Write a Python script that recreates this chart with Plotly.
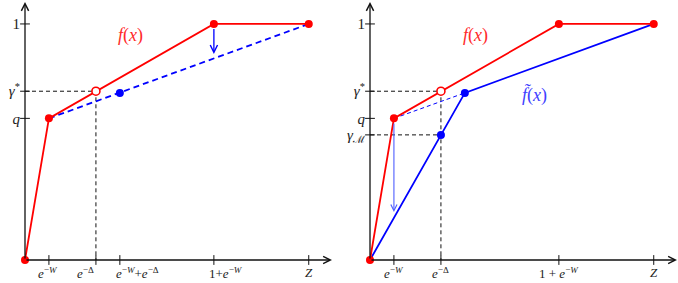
import plotly.graph_objects as go

# ---------------- data (abstract units) ----------------
EW = 0.145        # e^{-W}
ED = 0.43         # e^{-Delta}
Z = 1.72
Q = 0.60          # q
GSTAR = 0.715     # gamma*
GM = 0.53         # gamma_M
BLUE_MID = 0.708  # value of the dashed/tilde curve at e^{-W}+e^{-Delta}

# f(x) (red, both panels)
f_x = [0, EW, 1 + EW, Z]
f_y = [0, Q, 1.0, 1.0]
f_pts_x = [0, EW, 1 + EW, Z]
f_pts_y = [0, Q, 1.0, 1.0]
open_x = [ED]
open_y = [GSTAR]

# left panel: dashed blue chord and its point
chord_x = [EW, Z]
chord_y = [Q, 1.0]
chord_pt_x = [EW + ED]
chord_pt_y = [BLUE_MID]
left_arrow_x = [1 + EW, 1 + EW]
left_arrow_y = [0.985, 0.873]

# right panel: tilde f
ft_x = [0, ED, EW + ED, Z]
ft_y = [0, GM, BLUE_MID, 1.0]
ft_pts_x = [ED, EW + ED]
ft_pts_y = [GM, BLUE_MID]
ft_dash_x = [EW, EW + ED]
ft_dash_y = [Q, BLUE_MID]
right_arrow_x = [EW, EW]
right_arrow_y = [0.585, 0.203]

# ticks
left_xticks = [EW, ED, EW + ED, 1 + EW, Z]
left_xlabels = ["<i>e</i><sup>−<i>W</i></sup>", "<i>e</i><sup>−Δ</sup>",
                "<i>e</i><sup>−<i>W</i></sup>+<i>e</i><sup>−Δ</sup>",
                "1+<i>e</i><sup>−<i>W</i></sup>", "<i>Z</i>"]
left_yticks = [Q, GSTAR, 1.0]
left_ylabels = ["<i>q</i>", "<i>γ</i><sup>*</sup>", "1"]
right_xticks = [EW, ED, 1 + EW, Z]
right_xlabels = ["<i>e</i><sup>−<i>W</i></sup>", "<i>e</i><sup>−Δ</sup>",
                 "1 + <i>e</i><sup>−<i>W</i></sup>", "<i>Z</i>"]
right_yticks = [GM, Q, GSTAR, 1.0]
right_ylabels = ["<i>γ</i><sub>ℳ</sub>", "<i>q</i>", "<i>γ</i><sup>*</sup>", "1"]

# horizontal pixel nudges of the x labels (as typeset in the original)
left_label_shift = [-1, -10, 18, 12, 0]
right_label_shift = [0, 0, 0, 0]

XMAX = 1.861
YMAX = 1.093

RED = "#ff0000"
BLUE = "#0000ff"
SERIF = "Times New Roman, Liberation Serif, Times, serif"

fig = go.Figure()


def add(tr, panel):
    if panel == 2:
        tr.update(xaxis="x2", yaxis="y2")
    tr.update(showlegend=False, cliponaxis=False, hoverinfo="skip")
    fig.add_trace(tr)


dash_black = dict(color="#111", width=1, dash="4px,3px")

# ---------- left panel ----------
add(go.Scatter(x=[0, ED, ED], y=[GSTAR, GSTAR, 0], mode="lines", line=dash_black), 1)
add(go.Scatter(x=chord_x, y=chord_y, mode="lines",
               line=dict(color=BLUE, width=1.8, dash="6px,4px")), 1)
add(go.Scatter(x=f_x, y=f_y, mode="lines", line=dict(color=RED, width=1.8)), 1)
add(go.Scatter(x=chord_pt_x, y=chord_pt_y, mode="markers",
               marker=dict(color=BLUE, size=8)), 1)
add(go.Scatter(x=f_pts_x, y=f_pts_y, mode="markers", marker=dict(color=RED, size=8)), 1)
add(go.Scatter(x=open_x, y=open_y, mode="markers",
               marker=dict(color="white", size=8, line=dict(color=RED, width=1.6))), 1)
add(go.Scatter(x=left_xticks, y=[0] * len(left_xticks), mode="markers",
               marker=dict(symbol="line-ns", size=7, line=dict(color="#111", width=1))), 1)
add(go.Scatter(x=[0] * len(left_yticks), y=left_yticks, mode="markers",
               marker=dict(symbol="line-ew", size=7, line=dict(color="#111", width=1))), 1)

# ---------- right panel ----------
add(go.Scatter(x=[0, ED, ED], y=[GSTAR, GSTAR, 0], mode="lines", line=dash_black), 2)
add(go.Scatter(x=[0, ED], y=[GM, GM], mode="lines", line=dash_black), 2)
add(go.Scatter(x=ft_dash_x, y=ft_dash_y, mode="lines",
               line=dict(color=BLUE, width=1, dash="4px,3px")), 2)
add(go.Scatter(x=ft_x, y=ft_y, mode="lines", line=dict(color=BLUE, width=1.8)), 2)
add(go.Scatter(x=f_x, y=f_y, mode="lines", line=dict(color=RED, width=1.8)), 2)
add(go.Scatter(x=ft_pts_x, y=ft_pts_y, mode="markers", marker=dict(color=BLUE, size=8)), 2)
add(go.Scatter(x=f_pts_x, y=f_pts_y, mode="markers", marker=dict(color=RED, size=8)), 2)
add(go.Scatter(x=open_x, y=open_y, mode="markers",
               marker=dict(color="white", size=8, line=dict(color=RED, width=1.6))), 2)
add(go.Scatter(x=right_xticks, y=[0] * len(right_xticks), mode="markers",
               marker=dict(symbol="line-ns", size=7, line=dict(color="#111", width=1))), 2)
add(go.Scatter(x=[0] * len(right_yticks), y=right_yticks, mode="markers",
               marker=dict(symbol="line-ew", size=7, line=dict(color="#111", width=1))), 2)

annotations = []


def arrow(xr, yr, x0, y0, x1, y1, color, width, head=5):
    annotations.append(dict(x=x1, y=y1, ax=x0, ay=y0, xref=xr, yref=yr,
                            axref=xr, ayref=yr, showarrow=True, text="",
                            arrowhead=head, arrowsize=1.1, arrowwidth=width,
                            arrowcolor=color))


for xr, yr in (("x", "y"), ("x2", "y2")):
    arrow(xr, yr, 0, 0, XMAX, 0, "#111", 1.3)
    arrow(xr, yr, 0, 0, 0, YMAX, "#111", 1.3)

arrow("x", "y", left_arrow_x[0], left_arrow_y[0], left_arrow_x[1], left_arrow_y[1], BLUE, 1.3)
arrow("x2", "y2", right_arrow_x[0], right_arrow_y[0], right_arrow_x[1], right_arrow_y[1],
      "#4f5fff", 1.1)


def label(xr, yr, x, y, text, color):
    annotations.append(dict(x=x, y=y, xref=xr, yref=yr, text=text, showarrow=False,
                            font=dict(family=SERIF, size=18, color=color)))


label("x", "y", 0.642, 0.953, "<i>f</i>(<i>x</i>)", "#ff2a2a")
label("x2", "y2", 0.642, 0.953, "<i>f</i>(<i>x</i>)", "#ff2a2a")
label("x2", "y2", 1.0, 0.70, "<i>f̃</i>(<i>x</i>)", "#4040ff")

TICKFONT = dict(family=SERIF, size=13, color="#222")

# x tick labels, anchored under the tick values
for xr, yr, vals, texts, shifts in (("x", "y", left_xticks, left_xlabels, left_label_shift),
                                    ("x2", "y2", right_xticks, right_xlabels, right_label_shift)):
    for v, t, s in zip(vals, texts, shifts):
        annotations.append(dict(x=v, y=0, xref=xr, yref=yr, text=t, showarrow=False,
                                xanchor="center", yanchor="top", xshift=s, yshift=-3,
                                font=TICKFONT))

W, H = 678, 283
ydom = [(H - 260) / H, (H - 2) / H]

common_x = dict(range=[0, XMAX], showgrid=False, zeroline=False, showline=False,
                ticks="", showticklabels=False, fixedrange=True, automargin=False)
common_y = dict(range=[0, YMAX], domain=ydom, showgrid=False, zeroline=False,
                showline=False, ticks="", tickfont=dict(TICKFONT, size=15),
                fixedrange=True, automargin=False, tickangle=0, ticklabelstandoff=4)

fig.update_layout(
    width=W, height=H,
    margin=dict(l=0, r=0, t=0, b=0, autoexpand=False),
    paper_bgcolor="white", plot_bgcolor="white",
    font=dict(family=SERIF, size=14, color="#222"),
    xaxis=dict(common_x, domain=[25 / W, 332 / W], anchor="y"),
    yaxis=dict(common_y, anchor="x", tickvals=left_yticks, ticktext=left_ylabels),
    xaxis2=dict(common_x, domain=[370 / W, 677 / W], anchor="y2"),
    yaxis2=dict(common_y, anchor="x2", tickvals=right_yticks, ticktext=right_ylabels),
    annotations=annotations,
)

fig.write_html("out.html", config={"displayModeBar": False},
               post_script="document.body.style.margin='0';document.body.style.overflow='hidden';")
